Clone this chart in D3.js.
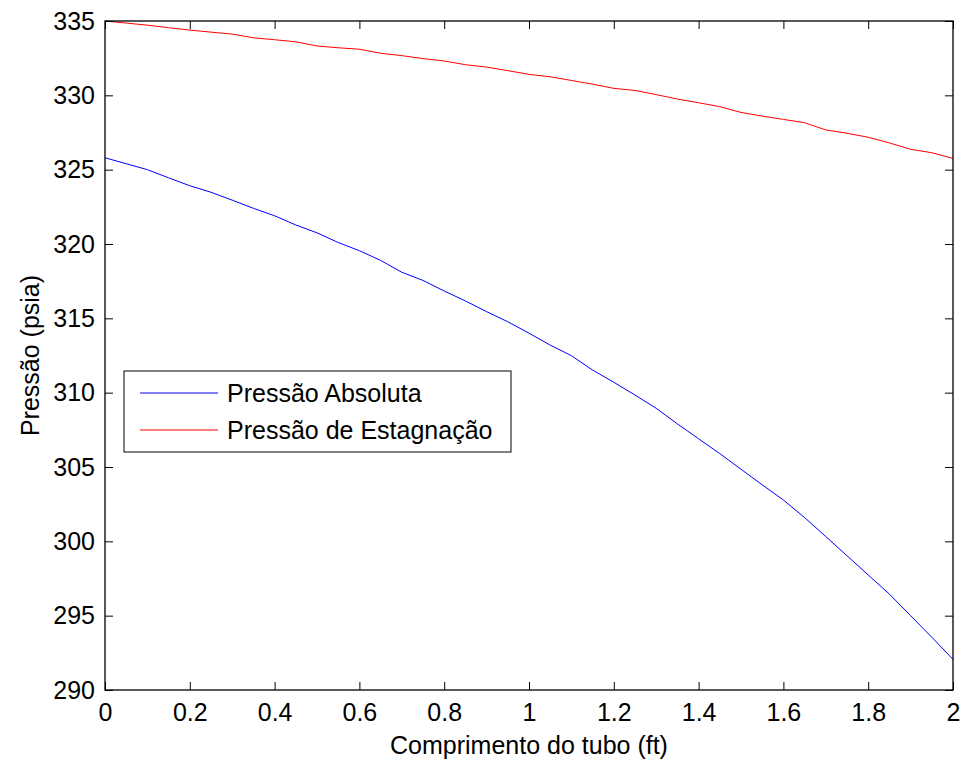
<!DOCTYPE html>
<html><head><meta charset="utf-8">
<script src="https://cdn.jsdelivr.net/npm/d3@7"></script>
<style>
html,body{margin:0;padding:0;background:#fff;}
text{font-family:"Liberation Sans",Arial,Helvetica,sans-serif;}
</style></head>
<body><svg id="chart" width="973" height="765"></svg>
<script>
const xValues = [0,0.05,0.1,0.15,0.2,0.25,0.3,0.35,0.4,0.45,0.5,0.55,0.6,0.65,0.7,0.75,0.8,0.85,0.9,0.95,1.0,1.05,1.1,1.15,1.2,1.25,1.3,1.35,1.4,1.45,1.5,1.55,1.6,1.65,1.7,1.75,1.8,1.85,1.9,1.95,2.0];
const pressaoAbsoluta = [325.8,325.4,325.0,324.45,323.92,323.48,322.95,322.4,321.9,321.28,320.75,320.1,319.55,318.9,318.1,317.55,316.84,316.17,315.45,314.77,314.0,313.2,312.49,311.52,310.7,309.84,308.95,307.9,306.9,305.9,304.85,303.8,302.78,301.6,300.32,299.03,297.74,296.45,295.0,293.55,292.06];
const pressaoEstagnacao = [335.0,334.86,334.72,334.55,334.39,334.25,334.12,333.87,333.74,333.6,333.32,333.2,333.1,332.83,332.67,332.47,332.31,332.06,331.9,331.66,331.41,331.25,331.0,330.75,330.47,330.33,330.05,329.75,329.5,329.24,328.85,328.6,328.38,328.16,327.67,327.45,327.18,326.8,326.37,326.14,325.76];
const xTicks = [0,0.2,0.4,0.6,0.8,1,1.2,1.4,1.6,1.8,2];
const yTicks = [290,295,300,305,310,315,320,325,330,335];
const seriesNames = ["Pressão Absoluta","Pressão de Estagnação"];
const seriesColors = ["#0000ff","#ff0000"];
const xTitle = "Comprimento do tubo (ft)";
const yTitle = "Pressão (psia)";

const svg = d3.select("#chart");
const L=105, R=953, T=21, B=690;
const x = d3.scaleLinear().domain([0,2]).range([L,R]);
const y = d3.scaleLinear().domain([290,335]).range([B,T]);
const fs = 25, tl = 8;

// curves
const line = d3.line().x((d,i)=>x(xValues[i])).y(d=>y(d));
[pressaoAbsoluta,pressaoEstagnacao].forEach((s,k)=>{
  svg.append("path").datum(s).attr("d",line).attr("fill","none")
    .attr("stroke",seriesColors[k]).attr("stroke-width",1);
});

// axes
const fmt = d=>String(d);
svg.append("g").attr("transform",`translate(0,${B})`)
  .call(d3.axisBottom(x).tickValues(xTicks).tickFormat(fmt).tickSizeInner(-tl).tickSizeOuter(0).tickPadding(13))
  .call(g=>{g.select(".domain").remove();g.selectAll("text").attr("font-size",fs).attr("fill","#000").attr("font-family","Liberation Sans, Arial, sans-serif");});
svg.append("g").attr("transform",`translate(0,${T})`)
  .call(d3.axisTop(x).tickValues(xTicks).tickFormat("").tickSizeInner(-tl).tickSizeOuter(0))
  .call(g=>g.select(".domain").remove());
svg.append("g").attr("transform",`translate(${L},0)`)
  .call(d3.axisLeft(y).tickValues(yTicks).tickFormat(fmt).tickSizeInner(-tl).tickSizeOuter(0).tickPadding(10))
  .call(g=>{g.select(".domain").remove();g.selectAll("text").attr("font-size",fs).attr("fill","#000").attr("font-family","Liberation Sans, Arial, sans-serif");});
svg.append("g").attr("transform",`translate(${R},0)`)
  .call(d3.axisRight(y).tickValues(yTicks).tickFormat("").tickSizeInner(-tl).tickSizeOuter(0))
  .call(g=>g.select(".domain").remove());
svg.selectAll(".tick line").attr("stroke","#000");
svg.append("rect").attr("x",L).attr("y",T).attr("width",R-L).attr("height",B-T)
  .attr("fill","none").attr("stroke","#000").attr("stroke-width",1.3);

// titles
svg.append("text").attr("x",(L+R)/2).attr("y",754).attr("text-anchor","middle")
  .attr("font-size",fs).text(xTitle);
svg.append("text").attr("transform",`translate(39,${(T+B)/2}) rotate(-90)`).attr("text-anchor","middle")
  .attr("font-size",fs).text(yTitle);

// legend
const lg = svg.append("g");
lg.append("rect").attr("x",124).attr("y",371).attr("width",387).attr("height",81)
  .attr("fill","#fff").attr("stroke","#000").attr("stroke-width",1);
seriesNames.forEach((n,i)=>{
  const cy = 393 + i*37;
  lg.append("line").attr("x1",140).attr("x2",218).attr("y1",cy).attr("y2",cy)
    .attr("stroke",seriesColors[i]).attr("stroke-width",1);
  lg.append("text").attr("x",227).attr("y",cy).attr("dy","0.35em").attr("font-size",fs).text(n);
});
</script></body></html>
